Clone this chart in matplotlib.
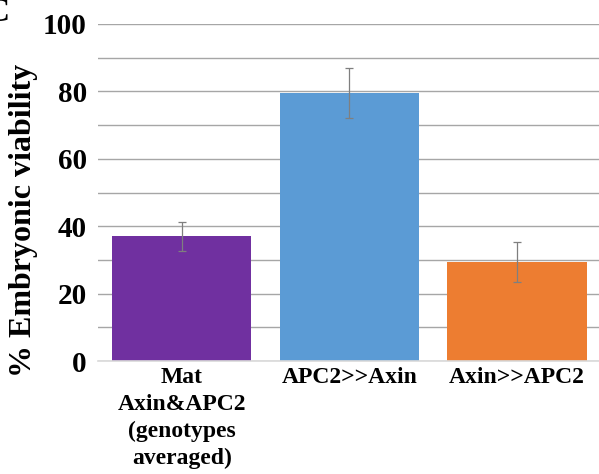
import matplotlib.pyplot as plt

# data
categories = ['Mat\nAxin&APC2\n(genotypes\naveraged)', 'APC2>>Axin', 'Axin>>APC2']
viability = [37.0, 79.5, 29.4]
errors = [4.3, 7.3, 6.0]
colors = ['#7030A0', '#5B9BD5', '#ED7D31']

plt.rcParams['font.family'] = ['Liberation Serif', 'DejaVu Serif']
plt.rcParams['font.weight'] = 'bold'

fig = plt.figure(figsize=(5.99, 4.74), dpi=100)
ax = fig.add_axes([98 / 599, 1 - 361 / 474, 1 - 98 / 599 + 0.003, 337 / 474])

x = range(len(categories))
ax.bar(x, viability, width=0.83, color=colors, zorder=2)
ax.errorbar(x, viability, yerr=errors, fmt='none', ecolor='#7f7f7f',
            elinewidth=0.9, capsize=3, capthick=0.9, zorder=3)

ax.set_xlim(-0.5, 2.5)
ax.set_ylim(0, 100)
ax.set_yticks([0, 20, 40, 60, 80, 100])
ax.set_yticks(range(10, 100, 20), minor=True)
ax.grid(axis='y', which='both', color='#a6a6a6', linewidth=1.0, zorder=0)
ax.set_axisbelow(True)

ax.set_xticks(list(x))
ax.set_xticklabels(categories, fontsize=17, fontweight='bold', linespacing=1.38,
                   va='top')
ax.tick_params(axis='x', length=0, pad=4)
ax.tick_params(axis='y', which='both', length=0, labelsize=21, pad=8)
for lbl in ax.get_yticklabels():
    lbl.set_fontweight('bold')

for side in ['left', 'right', 'top']:
    ax.spines[side].set_visible(False)
ax.spines['bottom'].set_color('#d9d9d9')
ax.spines['bottom'].set_linewidth(1.2)

fig.text(24 / 599, 1 - 220 / 474, '% Embryonic viability', fontsize=23,
         fontweight='bold', rotation=90, ha='center', va='center')

# panel letter, mostly cut off at the left edge
fig.text(-0.024, 1.006, 'C', fontsize=24, fontweight='bold', va='top', ha='left')

plt.savefig('out.png', dpi=100)
